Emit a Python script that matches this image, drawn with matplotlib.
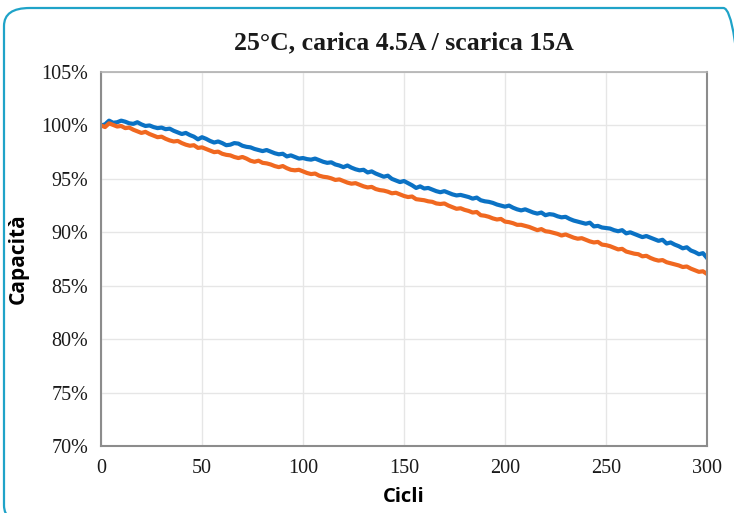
#!/usr/bin/env python3
"""
Capacity retention vs. cycles, 25 C, charge 4.5A / discharge 15A.
Writes out.png (734x513).
"""

import matplotlib.pyplot as plt
from matplotlib.patches import FancyBboxPatch
from matplotlib.ticker import FuncFormatter

# ─── Data (every 2 cycles) ───────────────────────────────────────────────────
cycles = list(range(0, 301, 2))

cap_blue = [
    100.0, 100.1, 100.45, 100.25, 100.3, 100.45, 100.35, 100.2, 100.15, 100.3,
    100.1, 99.95, 100.0, 99.85, 99.75, 99.8, 99.65, 99.7, 99.5, 99.35,
    99.2, 99.3, 99.1, 98.95, 98.7, 98.9, 98.75, 98.55, 98.4, 98.5,
    98.35, 98.15, 98.2, 98.35, 98.3, 98.1, 98.0, 97.95, 97.8, 97.7,
    97.6, 97.7, 97.55, 97.4, 97.3, 97.35, 97.1, 97.2, 97.05, 96.9,
    96.95, 96.85, 96.8, 96.9, 96.75, 96.6, 96.5, 96.55, 96.35, 96.25,
    96.1, 96.25, 96.05, 95.9, 95.8, 95.85, 95.6, 95.7, 95.5, 95.35,
    95.2, 95.3, 95.0, 94.85, 94.7, 94.8, 94.6, 94.4, 94.15, 94.3,
    94.1, 94.15, 94.0, 93.85, 93.75, 93.85, 93.7, 93.55, 93.45, 93.5,
    93.4, 93.3, 93.15, 93.25, 93.0, 92.9, 92.85, 92.75, 92.6, 92.5,
    92.4, 92.5, 92.3, 92.15, 92.05, 92.15, 92.0, 91.85, 91.75, 91.85,
    91.6, 91.7, 91.65, 91.5, 91.4, 91.45, 91.25, 91.1, 91.0, 90.9,
    90.8, 90.9, 90.55, 90.6, 90.45, 90.4, 90.35, 90.2, 90.1, 90.2,
    89.9, 90.0, 89.85, 89.7, 89.55, 89.65, 89.5, 89.35, 89.2, 89.3,
    88.95, 89.05, 88.85, 88.7, 88.5, 88.6, 88.3, 88.15, 87.95, 88.05,
    87.6,
]

cap_orange = [
    100.0, 99.85, 100.2, 100.05, 99.9, 99.95, 99.75, 99.8, 99.6, 99.45,
    99.3, 99.4, 99.2, 99.05, 98.9, 98.95, 98.75, 98.6, 98.5, 98.55,
    98.35, 98.2, 98.1, 98.15, 97.9, 97.95, 97.8, 97.65, 97.5, 97.55,
    97.35, 97.25, 97.2, 97.05, 96.95, 97.05, 96.9, 96.7, 96.6, 96.7,
    96.5, 96.45, 96.35, 96.2, 96.1, 96.2, 96.0, 95.85, 95.8, 95.85,
    95.7, 95.55, 95.45, 95.5, 95.3, 95.2, 95.15, 95.05, 94.9, 94.95,
    94.8, 94.65, 94.55, 94.6, 94.45, 94.3, 94.2, 94.25, 94.05, 93.95,
    93.9, 93.8, 93.65, 93.7, 93.55, 93.4, 93.3, 93.35, 93.1, 93.05,
    93.0, 92.9, 92.85, 92.7, 92.65, 92.7, 92.5, 92.35, 92.2, 92.25,
    92.1, 92.0, 91.85, 91.9, 91.6, 91.55, 91.45, 91.3, 91.2, 91.25,
    91.0, 90.95, 90.85, 90.7, 90.7, 90.6, 90.5, 90.35, 90.2, 90.3,
    90.1, 90.05, 89.95, 89.85, 89.7, 89.8, 89.65, 89.5, 89.4, 89.45,
    89.3, 89.15, 89.05, 89.1, 88.85, 88.8, 88.7, 88.55, 88.4, 88.45,
    88.2, 88.1, 88.0, 87.95, 87.75, 87.8, 87.6, 87.45, 87.35, 87.4,
    87.2, 87.1, 87.0, 86.9, 86.75, 86.8, 86.6, 86.45, 86.3, 86.35,
    86.1,
]

x_ticks = [0, 50, 100, 150, 200, 250, 300]
y_ticks = [70, 75, 80, 85, 90, 95, 100, 105]

BLUE = '#0b72c4'
ORANGE = '#f06820'
SERIF = 'Liberation Serif'
SANS = 'Open Sans'

# ─── Plot ────────────────────────────────────────────────────────────────────
fig = plt.figure(figsize=(7.34, 5.13), dpi=100)
ax = fig.add_axes([0.1376, 0.1306, 0.8256, 0.729])

ax.plot(cycles, cap_blue, color=BLUE, linewidth=3.0, solid_joinstyle='round')
ax.plot(cycles, cap_orange, color=ORANGE, linewidth=3.0, solid_joinstyle='round')

ax.set_xlim(0, 300)
ax.set_ylim(70, 105)
ax.set_xticks(x_ticks)
ax.set_yticks(y_ticks)
ax.yaxis.set_major_formatter(FuncFormatter(lambda v, _: f'{v:.0f}%'))
ax.tick_params(length=0, labelsize=14.5, pad=9)
for lab in ax.get_xticklabels() + ax.get_yticklabels():
    lab.set_family(SERIF)
    lab.set_color('#1a1a1a')

ax.grid(True, color='#e6e6e6', linewidth=1.0)
ax.set_axisbelow(True)
for side in ['left', 'bottom', 'right']:
    ax.spines[side].set_color('#8c8c8c')
    ax.spines[side].set_linewidth(1.5)
ax.spines['top'].set_color('#b0b0b0')
ax.spines['top'].set_linewidth(1.2)

ax.set_title('25°C, carica 4.5A / scarica 15A', family=SERIF, fontweight='bold',
             fontsize=18.5, color='#1a1a1a', pad=16)
ax.set_xlabel('Cicli', family=SANS, fontweight='bold', fontsize=14.5, labelpad=7)
ax.set_ylabel('Capacità', family=SANS, fontweight='bold', fontsize=15, labelpad=9)

# rounded teal frame around the whole chart
frame = FancyBboxPatch((4 / 734, -0.02), 745 / 734, 1 - 8 / 513 + 0.02,
                       boxstyle='round,pad=0,rounding_size=0.035',
                       transform=fig.transFigure, facecolor='none',
                       edgecolor='#1fa3c8', linewidth=1.6, clip_on=False)
fig.patches.append(frame)

fig.savefig('out.png', dpi=100)
plt.close()
